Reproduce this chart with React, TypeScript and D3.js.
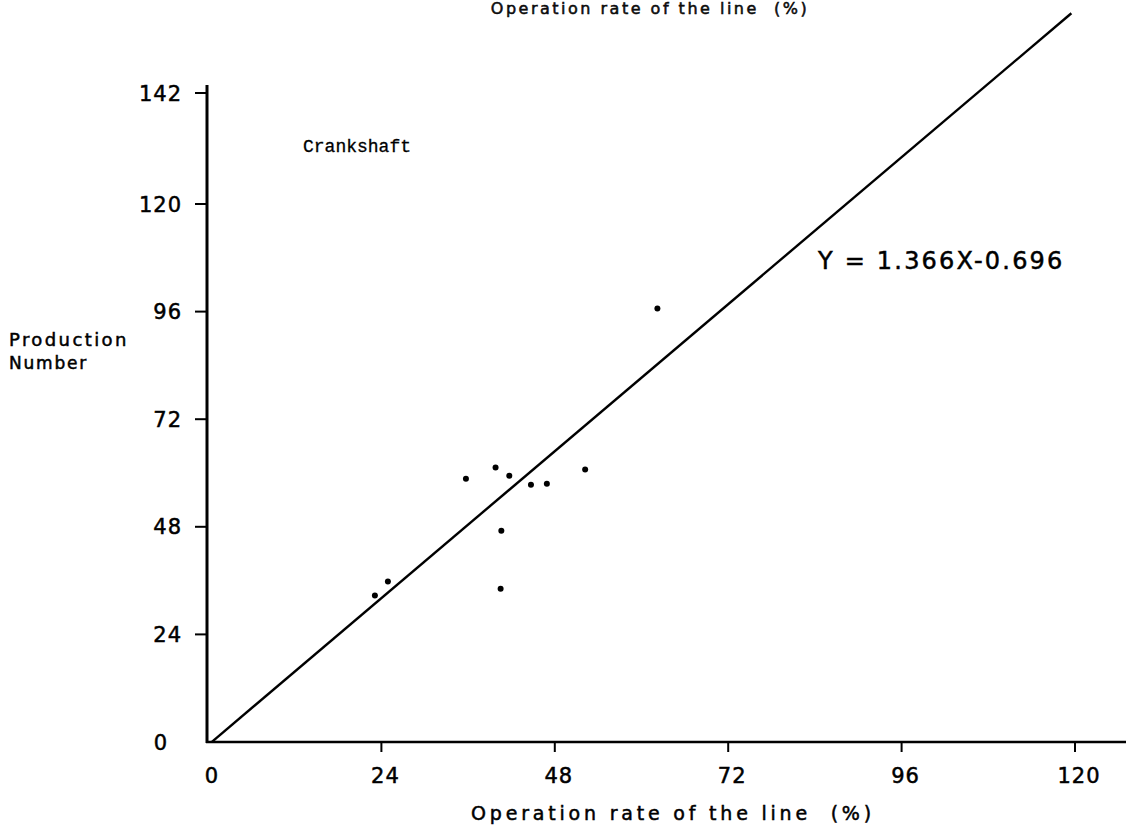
import React from "react";
import * as d3 from "d3";

const W = 1131;
const H = 836;

// Data
const operationRate = [23.1, 24.9, 35.7, 39.8, 41.7, 44.7, 46.9, 52.2, 40.6, 40.5, 62.2];
const productionNumber = [32.7, 35.8, 58.7, 61.2, 59.4, 57.4, 57.6, 60.8, 47.1, 34.2, 96.7];
const xTicks = [0, 24, 48, 72, 96, 120];
const yTicks = [0, 24, 48, 72, 96, 120, 142];
const slope = 1.366;
const intercept = -0.696;
const lineXs = [0.5, 119.5];

export default function App() {
  const x = d3.scaleLinear().domain([0, 120]).range([208, 1075]);
  const y = d3.scaleLinear().domain([0, 120]).range([742, 204]);
  // the drawn axis is slightly stretched at its top end
  const yAxis = d3.scaleLinear().domain([0, 120, 142]).range([742, 204, 93]);

  const line = d3
    .line<number>()
    .x((d) => x(d))
    .y((d) => y(slope * d + intercept));

  const font = "'DejaVu Sans', sans-serif";
  const thick = { stroke: "#000", strokeWidth: 0.5 };
  const title = "Operation rate of the line\u00a0\u00a0(%)";

  return (
    <svg
      width={W}
      height={H}
      style={{ position: "absolute", left: 0, top: 0, background: "#fff" }}
    >
      {/* top title (cut off in the scan) */}
      <text
        x={650}
        y={14}
        textAnchor="middle"
        fontFamily={font}
        fontSize={16}
        letterSpacing={2.5}
        fill="#111"
        {...thick}
      >
        {title}
      </text>

      {/* y axis */}
      <line x1={207} x2={207} y1={yAxis(142) - 8} y2={743} stroke="#000" strokeWidth={3} />
      {yTicks.map((t) => (
        <g key={"yt" + t}>
          {t > 0 && (
            <line x1={195} x2={207} y1={yAxis(t)} y2={yAxis(t)} stroke="#000" strokeWidth={2} />
          )}
          <text
            x={t === 0 ? 168 : 182}
            y={yAxis(t)}
            dy="0.36em"
            textAnchor="end"
            fontFamily={font}
            fontSize={21}
            letterSpacing={1}
            fill="#000"
            {...thick}
          >
            {t}
          </text>
        </g>
      ))}

      {/* x axis */}
      <line x1={206} x2={1126} y1={742} y2={742} stroke="#000" strokeWidth={2.5} />
      {xTicks.map((t) => (
        <g key={"xt" + t}>
          {t > 0 && (
            <line x1={x(t)} x2={x(t)} y1={742} y2={752} stroke="#000" strokeWidth={2} />
          )}
          <text
            x={x(t) + 4}
            y={783}
            textAnchor="middle"
            fontFamily={font}
            fontSize={21}
            letterSpacing={1}
            fill="#000"
            {...thick}
          >
            {t}
          </text>
        </g>
      ))}

      {/* axis titles */}
      <text
        x={673}
        y={820}
        textAnchor="middle"
        fontFamily={font}
        fontSize={19}
        letterSpacing={3.8}
        fill="#000"
        {...thick}
      >
        {title}
      </text>
      <text x={9} y={346} fontFamily={font} fontSize={18} letterSpacing={2.4} fill="#000" {...thick}>
        Production
      </text>
      <text x={9} y={369} fontFamily={font} fontSize={17} letterSpacing={1.8} fill="#000" {...thick}>
        Number
      </text>

      <text
        x={303}
        y={152}
        fontFamily="'Liberation Mono', 'DejaVu Sans Mono', monospace"
        fontSize={18}
        fill="#000"
        stroke="#000"
        strokeWidth={0.3}
      >
        Crankshaft
      </text>

      {/* regression line */}
      <path d={line(lineXs) || ""} fill="none" stroke="#000" strokeWidth={2.4} />

      <text
        x={818}
        y={269}
        fontFamily={font}
        fontSize={24}
        letterSpacing={2.2}
        fill="#000"
        {...thick}
      >
        Y = 1.366X-0.696
      </text>

      {/* data points */}
      {operationRate.map((v, i) => (
        <circle key={"p" + i} cx={x(v)} cy={y(productionNumber[i])} r={3} fill="#000" />
      ))}
    </svg>
  );
}
